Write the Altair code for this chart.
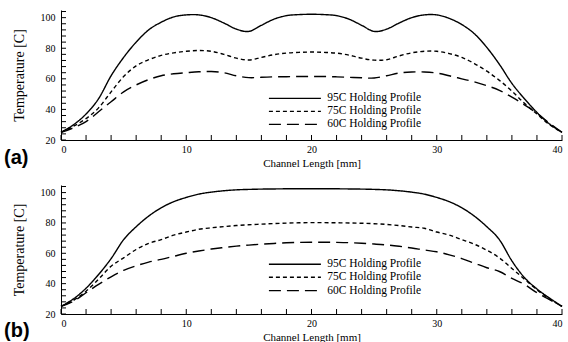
import altair as alt
import pandas as pd

# Channel length positions [mm]
x_mm = list(range(41))

series_names = ["95C Holding Profile", "75C Holding Profile", "60C Holding Profile"]

# Panel (a)
a_95 = [25, 30, 37, 47, 62, 74, 84, 92, 97, 100.5, 101.8, 101.8, 100, 96.5, 92.5, 91,
        95, 99, 101.3, 102, 102.2, 102, 101.3, 99, 95, 91, 92.5, 96.5, 100, 101.8, 101.8,
        99.5, 95.5, 89.5, 80.5, 69.5, 57, 47, 38, 30.5, 25]
a_75 = [25, 29, 34, 41, 51.5, 61.5, 68.5, 72.5, 75.3, 77, 78, 78.5, 78, 76, 73.5, 72.3,
        74, 75.8, 76.8, 77.3, 77.5, 77.3, 76.8, 75.5, 73.5, 72.2, 72.5, 75, 77, 78, 78,
        76.5, 74, 70, 65, 59, 52, 44, 37, 30, 25]
a_60 = [25, 28, 32, 38.5, 45, 51.5, 56, 59.5, 62, 63.3, 64, 64.6, 64.8, 64, 62, 60.8,
        61, 61.3, 61.4, 61.5, 61.5, 61.5, 61.3, 61, 60.7, 60.5, 62, 63.8, 64.5, 64.5, 63.8,
        62, 60, 58, 55.5, 52.5, 48, 43, 37.5, 31, 25]

# Panel (b)
b_95 = [25, 30, 37, 46, 56.5, 69, 77.5, 84.5, 90, 94, 96.8, 99, 100.3, 101.2, 101.8, 102.1,
        102.3, 102.4, 102.5, 102.5, 102.5, 102.5, 102.5, 102.4, 102.3, 102.1, 101.8, 101.2,
        100.3, 99, 96.8, 94, 90, 84.5, 77.5, 69, 55, 44, 36.5, 30.5, 25]
b_75 = [25, 29, 35, 43, 51.5, 57, 62.5, 66.5, 69, 72, 74, 75.8, 76.8, 77.6, 78.3, 78.8,
        79.2, 79.6, 79.9, 80.1, 80.2, 80.2, 80.1, 80, 79.8, 79.5, 79, 78.3, 77.3, 76.5, 74,
        72, 69, 66, 62, 57, 50, 43, 36, 30, 25]
b_60 = [25, 28.5, 34, 39.5, 44.5, 48.8, 51.8, 54.2, 56, 58, 60, 61.5, 62.8, 63.8, 64.7, 65.4,
        66, 66.5, 66.9, 67.2, 67.3, 67.3, 67.2, 67, 66.6, 66.1, 65.5, 64.6, 63.5, 62.2, 61,
        59, 56.5, 53.5, 50.5, 48, 43.5, 39.5, 34, 29.5, 25]

x_label_values = [0, 10, 20, 30, 40]
x_tick_values = list(range(0, 41, 2))
y_label_values = [20, 40, 60, 80, 100]
y_tick_values = list(range(20, 105, 4))

SERIF = "Liberation Serif"
W = 501
X_MIN, X_MAX, Y_MIN, Y_MAX = 0, 40, 20, 105
TICK_PX = 5

dash_scale = alt.Scale(domain=series_names, range=[[1, 0], [4, 3], [12, 6]])


def panel(v95, v75, v60, legend_y, tag, height, tag_y):
    rows = []
    for name, vals in zip(series_names, [v95, v75, v60]):
        for xv, yv in zip(x_mm, vals):
            rows.append({"x": xv, "value": yv, "series": name})
    df = pd.DataFrame(rows)
    leg = pd.DataFrame({"series": series_names, "y": legend_y,
                        "x1": [16.6] * 3, "x2": [20.75] * 3, "xt": [21.25] * 3})
    # tick lengths converted from pixels to data units
    ty = TICK_PX * (Y_MAX - Y_MIN) / height
    tx = TICK_PX * (X_MAX - X_MIN) / W
    xt_df = pd.DataFrame({"x": x_tick_values, "y": [Y_MIN] * len(x_tick_values),
                          "y2": [Y_MIN + ty] * len(x_tick_values)})
    yt_df = pd.DataFrame({"y": y_tick_values, "x": [X_MIN] * len(y_tick_values),
                          "x2": [X_MIN + tx] * len(y_tick_values)})

    xs = alt.Scale(domain=[X_MIN, X_MAX], nice=False, zero=False)
    ys = alt.Scale(domain=[Y_MIN, Y_MAX], nice=False, zero=False)

    lines = alt.Chart(df).mark_line(color="black", strokeWidth=1.4, interpolate="cardinal").encode(
        x=alt.X("x:Q", scale=xs, axis=alt.Axis(
            values=x_label_values, ticks=False, labelPadding=4, labelFont=SERIF, labelFontSize=10,
            title="Channel Length [mm]", titleFont=SERIF, titleFontSize=11, titleFontWeight="normal",
            titlePadding=3)),
        y=alt.Y("value:Q", scale=ys, axis=alt.Axis(
            values=y_label_values, ticks=False, labelPadding=6, labelFont=SERIF, labelFontSize=10,
            title="Temperature [C]", titleFont=SERIF, titleFontSize=14, titleFontWeight="normal",
            titlePadding=14)),
        strokeDash=alt.StrokeDash("series:N", scale=dash_scale, legend=None),
    )
    x_ticks = alt.Chart(xt_df).mark_rule(color="black", strokeWidth=1).encode(
        x=alt.X("x:Q", scale=xs, axis=None),
        y=alt.Y("y:Q", scale=ys, axis=None), y2="y2:Q")
    y_ticks = alt.Chart(yt_df).mark_rule(color="black", strokeWidth=1).encode(
        y=alt.Y("y:Q", scale=ys, axis=None),
        x=alt.X("x:Q", scale=xs, axis=None), x2="x2:Q")
    legend_lines = alt.Chart(leg).mark_rule(color="black", strokeWidth=1.4).encode(
        x=alt.X("x1:Q", scale=xs, axis=None),
        x2="x2:Q",
        y=alt.Y("y:Q", scale=ys, axis=None),
        strokeDash=alt.StrokeDash("series:N", scale=dash_scale, legend=None),
    )
    legend_text = alt.Chart(leg).mark_text(align="left", baseline="middle", font=SERIF,
                                           fontSize=11.5, color="black").encode(
        x=alt.X("xt:Q", scale=xs, axis=None),
        y=alt.Y("y:Q", scale=ys, axis=None),
        text="series:N",
    )
    tag_mark = alt.Chart(pd.DataFrame({"t": [tag]})).mark_text(
        align="left", baseline="alphabetic", font="Liberation Sans", fontWeight="bold",
        fontSize=20, color="black").encode(
        x=alt.value(-57), y=alt.value(tag_y), text="t:N")

    return alt.layer(lines, x_ticks, y_ticks, legend_lines, legend_text, tag_mark).resolve_scale(
        x="independent", y="independent").properties(width=W, height=height)


top = panel(a_95, a_75, a_60, [47.2, 38.7, 30.2], "(a)", 130, 154)
bottom = panel(b_95, b_75, b_60, [52.8, 44.2, 35.4], "(b)", 129, 152)

chart = alt.vconcat(top, bottom, spacing=45, bounds="flush").properties(
    padding={"left": 4, "top": 10, "right": 0, "bottom": 0}
).configure_view(stroke=None).configure_axis(
    grid=False, domainColor="black", tickColor="black", labelColor="black", titleColor="black",
    labelFont=SERIF, titleFont=SERIF, domainWidth=1,
)

chart.save("out.html", embed_options={"renderer": "svg", "actions": False})
